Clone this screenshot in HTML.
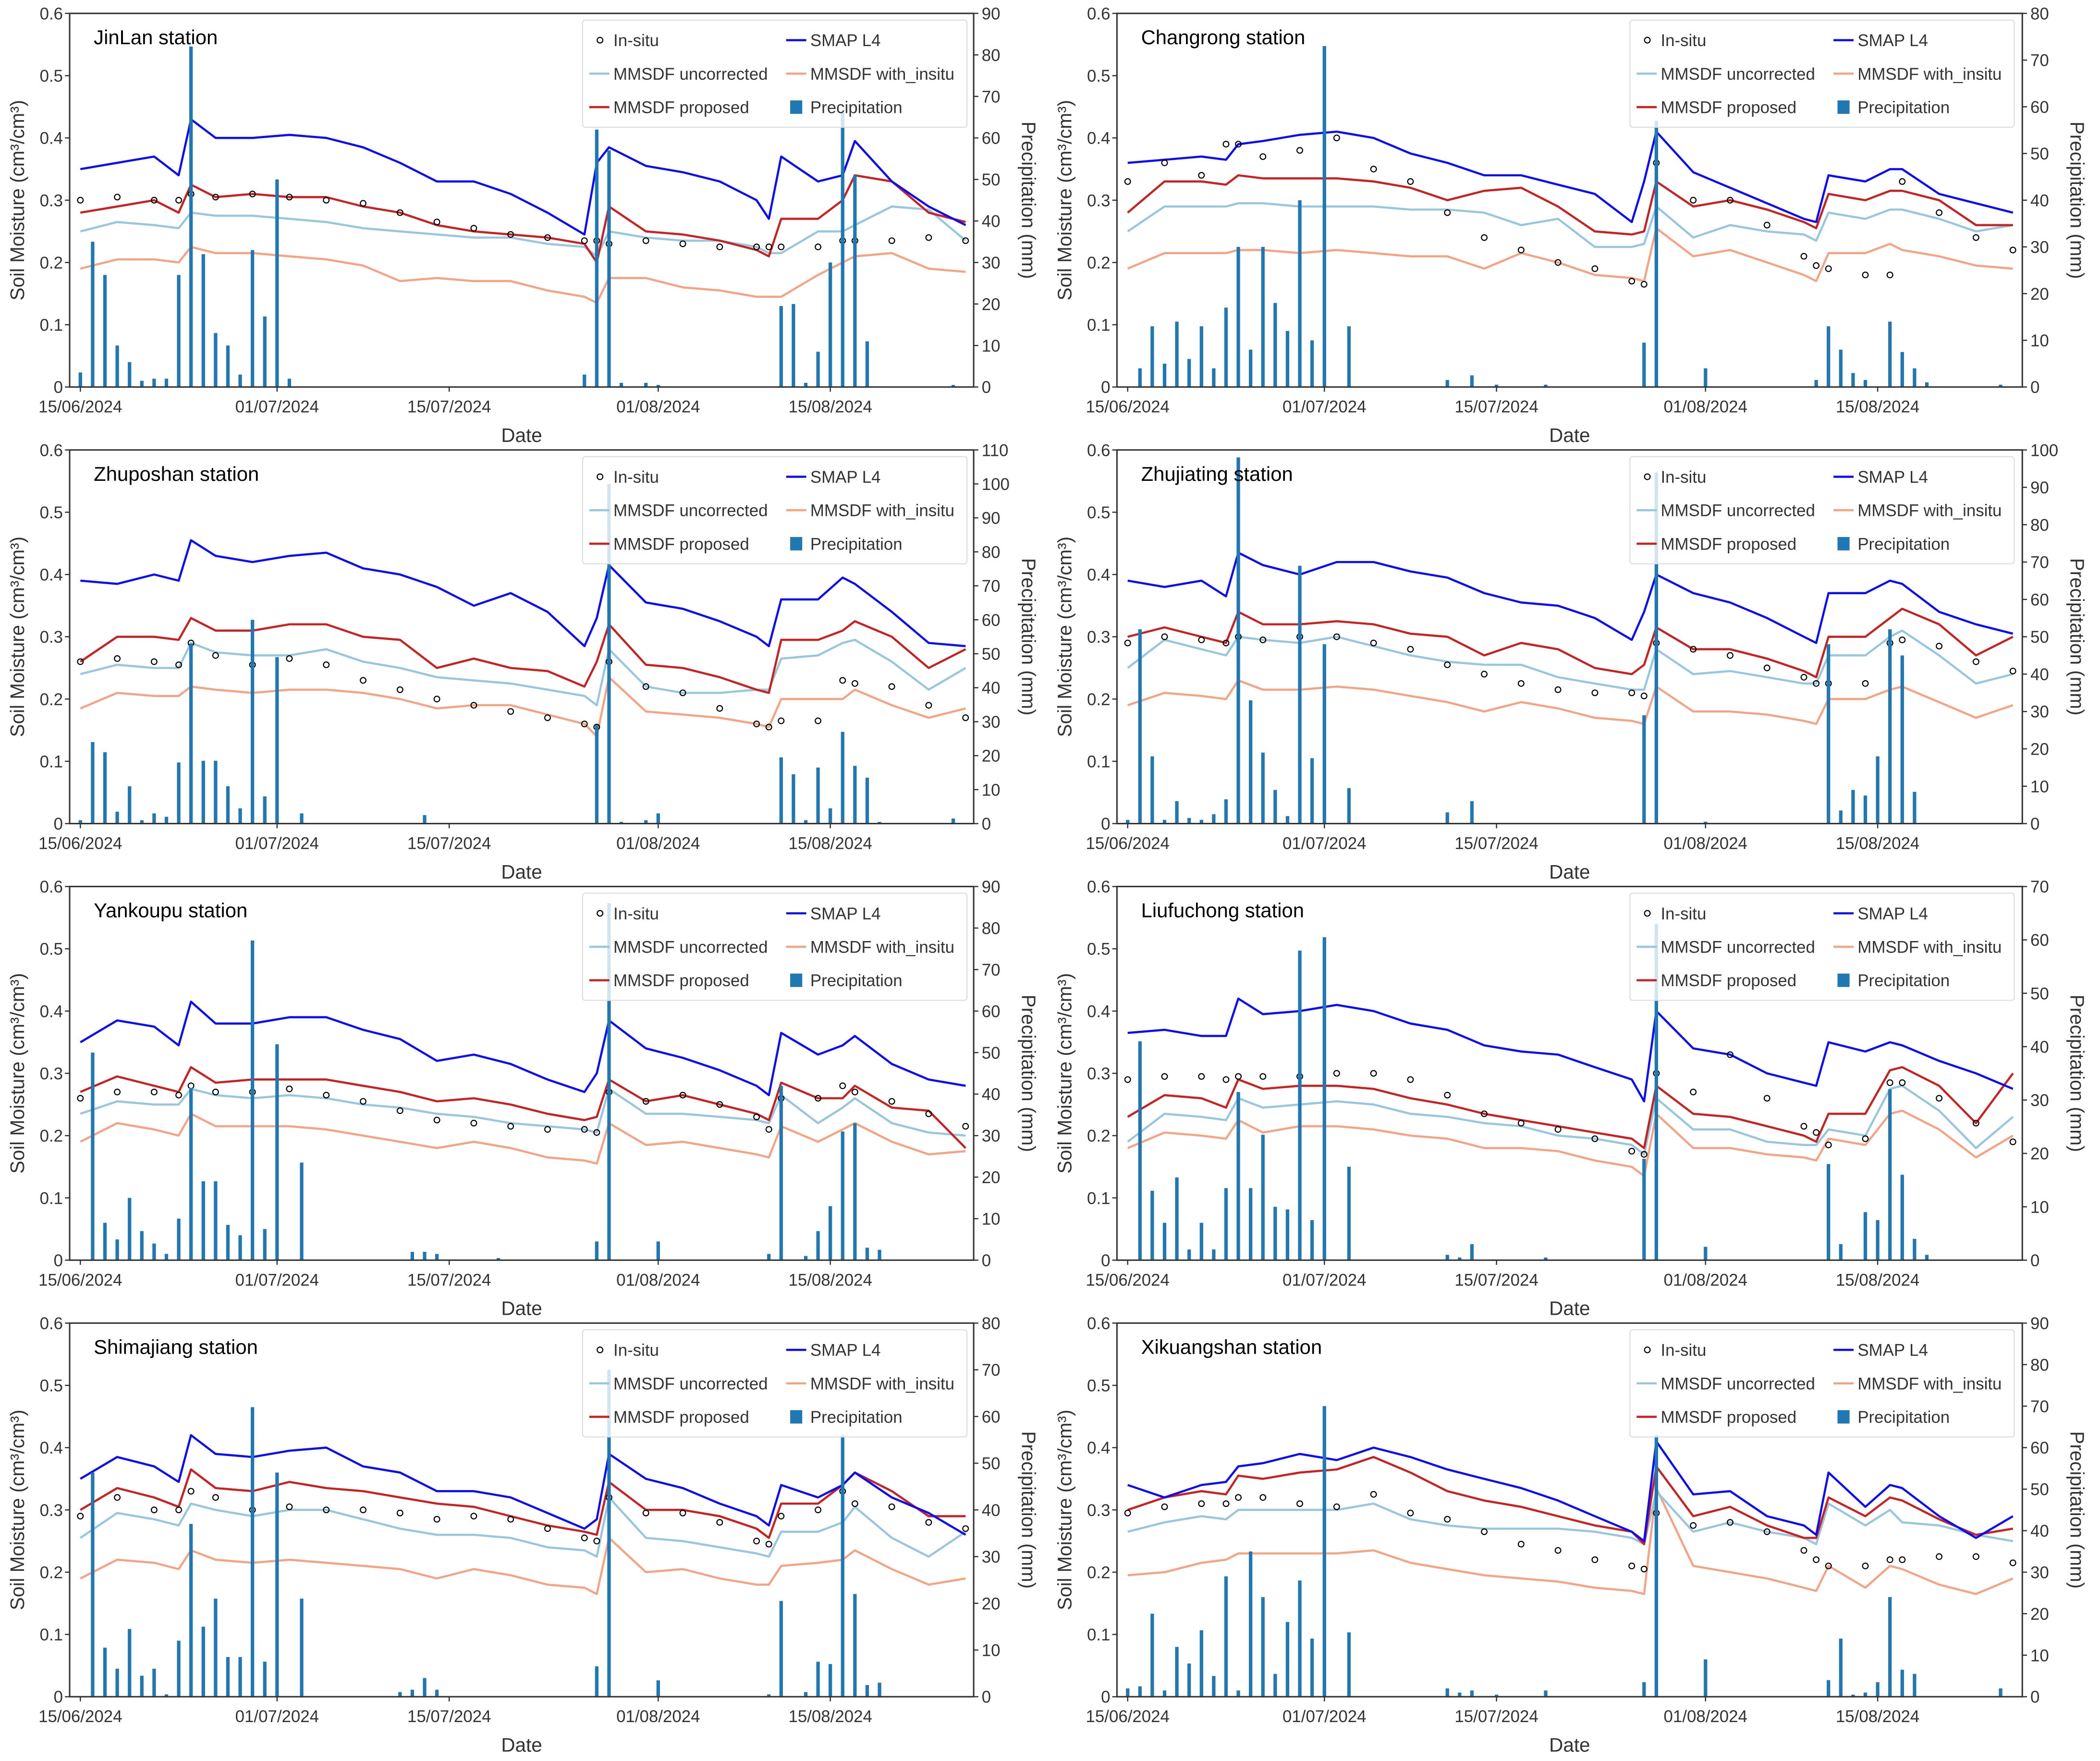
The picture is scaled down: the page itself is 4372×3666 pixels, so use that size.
<!DOCTYPE html>
<html><head><meta charset="utf-8"><style>
html,body{margin:0;padding:0;background:#fff;}
svg{display:block;font-family:"Liberation Sans","DejaVu Sans",sans-serif;}
</style></head>
<body>
<svg id="fig" width="4372" height="3666" viewBox="0 0 1568 1315" preserveAspectRatio="none" xmlns="http://www.w3.org/2000/svg"></svg>
<script>
// ---- data ----
const days = [0,3,6,8,9,11,14,17,20,23,26,29,32,35,38,41,42,43,46,49,52,55,56,57,60,62,63,66,69,72];
const stations = ["JinLan station","Changrong station","Zhuposhan station","Zhujiating station","Yankoupu station","Liufuchong station","Shimajiang station","Xikuangshan station"];
const precipMax = [90,80,110,100,90,70,80,90];
const dateTickDays = [0,16,30,47,61];
const dateTickLabels = ["15/06/2024","01/07/2024","15/07/2024","01/08/2024","15/08/2024"];
const smTicks = [0,0.1,0.2,0.3,0.4,0.5,0.6];
const smTickLabels = ["0","0.1","0.2","0.3","0.4","0.5","0.6"];

const smap = [
[.35,.36,.37,.34,.43,.40,.40,.405,.40,.385,.36,.33,.33,.31,.28,.245,.36,.385,.355,.345,.33,.30,.27,.37,.33,.34,.395,.33,.29,.26],
[.36,.365,.37,.365,.39,.395,.405,.41,.40,.375,.36,.34,.34,.325,.31,.265,.33,.41,.345,.32,.295,.27,.265,.34,.33,.35,.35,.31,.295,.28],
[.39,.385,.40,.39,.455,.43,.42,.43,.435,.41,.40,.38,.35,.37,.34,.285,.33,.415,.355,.345,.325,.30,.285,.36,.36,.395,.385,.34,.29,.285],
[.39,.38,.39,.365,.435,.415,.40,.42,.42,.405,.395,.37,.355,.35,.33,.295,.34,.40,.37,.355,.33,.30,.29,.37,.37,.39,.385,.34,.32,.305],
[.35,.385,.375,.345,.415,.38,.38,.39,.39,.37,.355,.32,.33,.315,.29,.27,.30,.385,.34,.325,.305,.28,.265,.365,.33,.345,.36,.315,.29,.28],
[.365,.37,.36,.36,.42,.395,.40,.41,.40,.38,.37,.345,.335,.33,.31,.29,.255,.40,.34,.33,.30,.285,.28,.35,.335,.35,.345,.32,.30,.275],
[.35,.385,.37,.345,.42,.39,.385,.395,.40,.37,.36,.33,.33,.32,.295,.27,.285,.39,.35,.335,.31,.29,.275,.34,.32,.34,.36,.32,.295,.26],
[.34,.32,.34,.345,.37,.375,.39,.38,.40,.385,.365,.35,.335,.315,.29,.265,.25,.41,.325,.33,.29,.275,.26,.36,.305,.34,.335,.29,.255,.29]];
const proposed = [
[.28,.29,.30,.28,.325,.305,.31,.305,.305,.29,.28,.26,.25,.245,.24,.23,.20,.29,.25,.245,.235,.22,.21,.27,.27,.30,.34,.33,.28,.265],
[.28,.33,.33,.325,.34,.335,.335,.335,.33,.32,.30,.315,.32,.29,.25,.245,.25,.33,.29,.30,.285,.265,.255,.31,.30,.315,.315,.30,.26,.26],
[.26,.30,.30,.295,.33,.31,.31,.32,.32,.30,.295,.25,.265,.25,.245,.22,.26,.32,.255,.25,.235,.215,.21,.295,.295,.31,.325,.30,.25,.28],
[.30,.315,.30,.29,.34,.32,.32,.325,.32,.305,.30,.27,.29,.28,.25,.24,.255,.315,.28,.28,.265,.245,.235,.30,.30,.33,.345,.32,.27,.30],
[.27,.295,.28,.27,.31,.285,.29,.29,.29,.28,.27,.255,.26,.25,.235,.225,.23,.29,.255,.265,.25,.235,.225,.285,.26,.26,.28,.245,.24,.18],
[.23,.265,.26,.245,.29,.275,.28,.28,.275,.26,.25,.235,.225,.215,.205,.195,.18,.28,.235,.23,.215,.20,.19,.235,.235,.305,.31,.28,.22,.30],
[.30,.335,.32,.305,.365,.335,.33,.345,.335,.33,.32,.31,.305,.29,.275,.265,.26,.345,.30,.30,.29,.27,.255,.31,.31,.34,.36,.33,.29,.29],
[.30,.32,.33,.325,.355,.35,.36,.365,.385,.36,.33,.315,.305,.29,.275,.265,.245,.37,.29,.305,.275,.255,.255,.32,.29,.32,.315,.285,.26,.27]];
const uncorrected = [
[.25,.265,.26,.255,.28,.275,.275,.27,.265,.255,.25,.245,.24,.24,.23,.225,.21,.25,.24,.235,.235,.225,.215,.215,.25,.25,.26,.29,.285,.235],
[.25,.29,.29,.29,.295,.295,.29,.29,.29,.285,.285,.28,.26,.27,.225,.225,.23,.29,.24,.26,.25,.245,.235,.28,.27,.285,.285,.27,.25,.26],
[.24,.255,.25,.25,.29,.275,.27,.27,.28,.26,.25,.235,.23,.225,.215,.205,.19,.28,.22,.21,.21,.215,.215,.265,.27,.29,.295,.26,.215,.25],
[.25,.295,.28,.27,.30,.295,.29,.30,.285,.27,.26,.255,.255,.235,.225,.215,.215,.28,.24,.245,.235,.225,.225,.27,.27,.30,.31,.27,.225,.24],
[.235,.255,.25,.25,.275,.265,.26,.265,.26,.25,.245,.235,.23,.22,.215,.21,.205,.275,.235,.235,.23,.225,.22,.265,.22,.245,.26,.22,.205,.20],
[.19,.235,.23,.225,.26,.245,.25,.255,.25,.235,.23,.22,.215,.20,.195,.185,.17,.26,.21,.21,.19,.185,.185,.21,.20,.275,.28,.24,.18,.23],
[.255,.295,.285,.275,.31,.30,.29,.30,.30,.285,.27,.26,.26,.255,.24,.235,.225,.32,.255,.25,.24,.23,.225,.265,.265,.28,.305,.255,.225,.265],
[.265,.28,.29,.285,.30,.30,.30,.30,.31,.285,.275,.27,.27,.27,.265,.255,.245,.33,.265,.28,.265,.255,.245,.31,.275,.30,.28,.275,.26,.25]];
const withInsitu = [
[.19,.205,.205,.20,.225,.215,.215,.21,.205,.195,.17,.175,.17,.17,.155,.145,.135,.175,.175,.16,.155,.145,.145,.145,.18,.20,.21,.215,.19,.185],
[.19,.215,.215,.215,.22,.22,.215,.22,.215,.21,.21,.19,.215,.20,.18,.175,.17,.255,.21,.22,.20,.18,.17,.215,.215,.23,.22,.21,.195,.19],
[.185,.21,.205,.205,.22,.215,.21,.215,.215,.21,.20,.185,.19,.19,.175,.16,.14,.235,.18,.175,.17,.16,.155,.20,.20,.20,.215,.19,.17,.185],
[.19,.21,.205,.20,.23,.215,.215,.22,.215,.205,.195,.18,.195,.185,.17,.165,.16,.22,.18,.18,.175,.165,.16,.20,.20,.215,.22,.195,.17,.19],
[.19,.22,.21,.20,.235,.215,.215,.215,.21,.20,.19,.18,.19,.18,.165,.16,.155,.22,.185,.19,.18,.17,.165,.215,.19,.21,.22,.19,.17,.175],
[.18,.205,.20,.195,.225,.205,.215,.215,.21,.20,.195,.18,.18,.175,.16,.15,.135,.235,.18,.18,.17,.165,.16,.195,.185,.235,.24,.21,.165,.20],
[.19,.22,.215,.205,.235,.22,.215,.22,.215,.21,.205,.19,.205,.195,.18,.175,.165,.255,.20,.205,.19,.18,.18,.21,.215,.22,.235,.205,.18,.19],
[.195,.20,.215,.22,.23,.23,.23,.23,.235,.215,.205,.195,.19,.185,.175,.17,.165,.335,.21,.20,.19,.175,.17,.21,.175,.21,.205,.18,.165,.19]];
const insitu = [
[.30,.305,.30,.30,.31,.305,.31,.305,.30,.295,.28,.265,.255,.245,.24,.235,.235,.23,.235,.23,.225,.225,.225,.225,.225,.235,.235,.235,.24,.235],
[.33,.36,.34,.39,.39,.37,.38,.40,.35,.33,.28,.24,.22,.20,.19,.17,.165,.36,.30,.30,.26,.21,.195,.19,.18,.18,.33,.28,.24,.22],
[.26,.265,.26,.255,.29,.27,.255,.265,.255,.23,.215,.20,.19,.18,.17,.16,.155,.26,.22,.21,.185,.16,.155,.165,.165,.23,.225,.22,.19,.17],
[.29,.30,.295,.29,.30,.295,.30,.30,.29,.28,.255,.24,.225,.215,.21,.21,.205,.29,.28,.27,.25,.235,.225,.225,.225,.29,.295,.285,.26,.245],
[.26,.27,.27,.265,.28,.27,.27,.275,.265,.255,.24,.225,.22,.215,.21,.21,.205,.27,.255,.265,.25,.23,.21,.26,.26,.28,.27,.255,.235,.215],
[.29,.295,.295,.29,.295,.295,.295,.30,.30,.29,.265,.235,.22,.21,.195,.175,.17,.30,.27,.33,.26,.215,.205,.185,.195,.285,.285,.26,.22,.19],
[.29,.32,.30,.30,.33,.32,.30,.305,.30,.30,.295,.285,.29,.285,.27,.255,.25,.32,.295,.295,.28,.25,.245,.29,.30,.33,.31,.305,.28,.27],
[.295,.305,.31,.31,.32,.32,.31,.305,.325,.295,.285,.265,.245,.235,.22,.21,.205,.295,.275,.28,.265,.235,.22,.21,.21,.22,.22,.225,.225,.215]];
const precipDays = [
[0,1,2,3,4,5,6,7,8,9,10,11,12,13,14,15,16,17,41,42,43,44,46,47,57,58,59,60,61,62,63,64,71],
[1,2,3,4,5,6,7,8,9,10,11,12,13,14,15,16,18,26,28,30,34,42,43,47,56,57,58,59,60,62,63,64,65,71],
[0,1,2,3,4,5,6,7,8,9,10,11,12,13,14,15,16,18,28,42,43,44,46,47,57,58,59,60,61,62,63,64,65,71],
[0,1,2,3,4,5,6,7,8,9,10,11,12,13,14,15,16,18,26,28,42,43,47,57,58,59,60,61,62,63,64],
[1,2,3,4,5,6,7,8,9,10,11,12,13,14,15,16,18,27,28,29,34,42,43,47,56,57,59,60,61,62,63,64,65],
[1,2,3,4,5,6,7,8,9,10,11,12,13,14,15,16,18,26,27,28,34,42,43,47,57,58,60,61,62,63,64,65],
[1,2,3,4,5,6,7,8,9,10,11,12,13,14,15,16,18,26,27,28,29,42,43,47,56,57,59,60,61,62,63,64,65],
[0,1,2,3,4,5,6,7,8,9,10,11,12,13,14,15,16,18,26,27,28,30,34,42,43,47,57,58,59,60,61,62,63,64,71]];
const precipVals = [
[3.5,35,27,10,6,1.5,2,2,27,82,32,13,10,3,33,17,50,2,3,62,57,1,1,0.5,19.5,20,1,8.5,30,66,51,11,0.5],
[4,13,5,14,6,13,4,17,30,8,30,18,12,40,10,73,13,1.5,2.5,0.5,0.5,9.5,57,4,1.5,13,8,3,1.5,14,7.5,4,1,0.5],
[1,24,21,3.5,11,1,3,2,18,53,18.5,18.5,11,4.5,60,8,49,3,2.5,29,100,0.5,1,3,19.5,14.5,1,16.5,4.5,27,17,13.5,0.5,1.5],
[1,52,18,1,6,1.5,1,2.5,6.5,98,33,19,9,2,69,17.5,48,9.5,3,6,29,94,0.5,48,3.5,9,7.5,18,52,45,8.5],
[50,9,5,15,7,4,1.5,10,41.5,19,19,8.5,6,77,7.5,52,23.5,2,2,1.5,0.5,4.5,86,4.5,1.5,42,1,7,13,31,33,3,2.5],
[41,13,7,15.5,2,7,2,13.5,31.5,13.5,23.5,10,9.5,58,7.5,60.5,17.5,1,0.5,3,0.5,19,63,2.5,18,3,9,7.5,32,16,4,1],
[48,10.5,6,14.5,4.5,6,0.5,12,37,15,21,8.5,8.5,62,7.5,48,21,1,1.5,4,1.5,6.5,70,3.5,0.5,20.5,1,7.5,7,56,22,2.5,3],
[2,2.5,20,1.5,12,8,16,5,29,1.5,35,24,5.5,18,28,14,70,15.5,2,1,1.5,0.5,1.5,3.5,63,9,4,14,0.5,1,3.5,24,6.5,5.5,2]];

// ---- drawing ----
const NS = "http://www.w3.org/2000/svg";
const svg = document.getElementById('fig');
function mk(tag, attrs, parent){
  const e = document.createElementNS(NS, tag);
  for (const k in attrs) e.setAttribute(k, attrs[k]);
  (parent||svg).appendChild(e);
  return e;
}
const C = {smap:"#0a0aff", unc:"#96c6e0", prop:"#cc1f1f", ins:"#f7a383", bar:"#1f77b4", ax:"#333"};

for (let p = 0; p < 8; p++) {
  const col = p % 2, row = Math.floor(p / 2);
  const L = col ? 834 : 52, R = col ? 1510 : 727;
  const T = 10 + 326*row, B = 289 + 326*row;
  const xDay = d => L + 8 + d*9.18;
  const ySM = v => B - v/0.6*(B-T);
  const yP = v => B - v/precipMax[p]*(B-T);
  const g = mk('g', {});
  
  

  // series lines
  const series = [[withInsitu, C.ins, 'with-insitu-line'], [uncorrected, C.unc, 'uncorrected-line'], [proposed, C.prop, 'proposed-line'], [smap, C.smap, 'smap-line']];
  for (const [arr, color, nm] of series) {
    const pts = days.map((d,i) => xDay(d).toFixed(1)+','+ySM(arr[p][i]).toFixed(1)).join(' ');
    const pl = mk('polyline', {points: pts, fill:'none', stroke: color, 'stroke-width': 1.6, 'stroke-linejoin':'round'}, g);
    
    
  }
  // in-situ circles
  days.forEach((d,i) => {
    const c = mk('circle', {cx: xDay(d), cy: ySM(insitu[p][i]), r: 2.1, fill:'none', stroke:'#000', 'stroke-width': 0.8}, g);
    
    
  });
  // precipitation bars
  precipDays[p].forEach((d,i) => {
    const v = precipVals[p][i];
    const r = mk('rect', {x: xDay(d)-1.3, y: yP(v), width: 2.6, height: B - yP(v), fill: C.bar}, g);
    
    
  });
  // axes frame
  mk('rect', {x:L, y:T, width:R-L, height:B-T, fill:'none', stroke:C.ax, 'stroke-width':1.1}, g);
  // left ticks
  smTicks.forEach((v,i) => {
    mk('line', {x1:L-3.5, x2:L, y1:ySM(v), y2:ySM(v), stroke:C.ax, 'stroke-width':0.9}, g);
    const t = mk('text', {x:L-5, y:ySM(v)+4.5, 'text-anchor':'end', 'font-size':12.5, fill:'#333'}, g);
    t.textContent = smTickLabels[i];
    
    
  });
  // right ticks
  for (let v = 0; v <= precipMax[p]; v += 10) {
    mk('line', {x1:R, x2:R+3.5, y1:yP(v), y2:yP(v), stroke:C.ax, 'stroke-width':0.9}, g);
    const t = mk('text', {x:R+6, y:yP(v)+4.5, 'font-size':12.5, fill:'#333'}, g);
    t.textContent = String(v);
    
    
  }
  // x ticks
  dateTickDays.forEach((d,i) => {
    mk('line', {x1:xDay(d), x2:xDay(d), y1:B, y2:B+3.5, stroke:C.ax, 'stroke-width':0.9}, g);
    const t = mk('text', {x:xDay(d), y:B+19, 'text-anchor':'middle', 'font-size':12.5, fill:'#333'}, g);
    t.textContent = dateTickLabels[i];
    
    
  });
  // axis labels
  const xl = mk('text', {x:(L+R)/2, y:B+41, 'text-anchor':'middle', 'font-size':14.5, fill:'#333'}, g);
  xl.textContent = 'Date';
  
  
  const yl = mk('text', {x:0, y:0, 'text-anchor':'middle', 'font-size':14.5, fill:'#333', transform:`translate(${L-34},${(T+B)/2}) rotate(-90)`}, g);
  yl.textContent = 'Soil Moisture (cm³/cm³)';
  
  
  const yr = mk('text', {x:0, y:0, 'text-anchor':'middle', 'font-size':14.5, fill:'#333', transform:`translate(${R+36},${(T+B)/2}) rotate(90)`}, g);
  yr.textContent = 'Precipitation (mm)';
  
  
  // title
  const tt = mk('text', {x:L+18, y:T+23, 'font-size':15, fill:'#000'}, g);
  tt.textContent = stations[p];
  
  
  // legend
  const lg = mk('g', {}, g);
  
  
  mk('rect', {x:L+383, y:T+5, width:287, height:80, fill:'#fff', 'fill-opacity':0.8, stroke:'#ddd', 'stroke-width':0.8, rx:2}, lg);
  const c1 = L+396, c2 = L+543;
  const rows = [T+21, T+46, T+71];
  mk('circle', {cx:c1, cy:rows[0]-1, r:2.1, fill:'none', stroke:'#000', 'stroke-width':0.8}, lg);
  mk('line', {x1:c2-8, x2:c2+7, y1:rows[0]-1, y2:rows[0]-1, stroke:C.smap, 'stroke-width':1.6}, lg);
  mk('line', {x1:c1-8, x2:c1+7, y1:rows[1]-1, y2:rows[1]-1, stroke:C.unc, 'stroke-width':1.6}, lg);
  mk('line', {x1:c2-8, x2:c2+7, y1:rows[1]-1, y2:rows[1]-1, stroke:C.ins, 'stroke-width':1.6}, lg);
  mk('line', {x1:c1-8, x2:c1+7, y1:rows[2]-1, y2:rows[2]-1, stroke:C.prop, 'stroke-width':1.6}, lg);
  mk('rect', {x:c2-5, y:rows[2]-6, width:9, height:10, fill:C.bar}, lg);
  const labs = [[c1+10,rows[0],'In-situ'],[c2+10,rows[0],'SMAP L4'],[c1+10,rows[1],'MMSDF uncorrected'],[c2+10,rows[1],'MMSDF with_insitu'],[c1+10,rows[2],'MMSDF proposed'],[c2+10,rows[2],'Precipitation']];
  for (const [x,y,s] of labs) {
    const t = mk('text', {x:x, y:y+3.5, 'font-size':12.5, fill:'#333'}, lg);
    t.textContent = s;
    
    
  }
}
</script>
</body></html>
